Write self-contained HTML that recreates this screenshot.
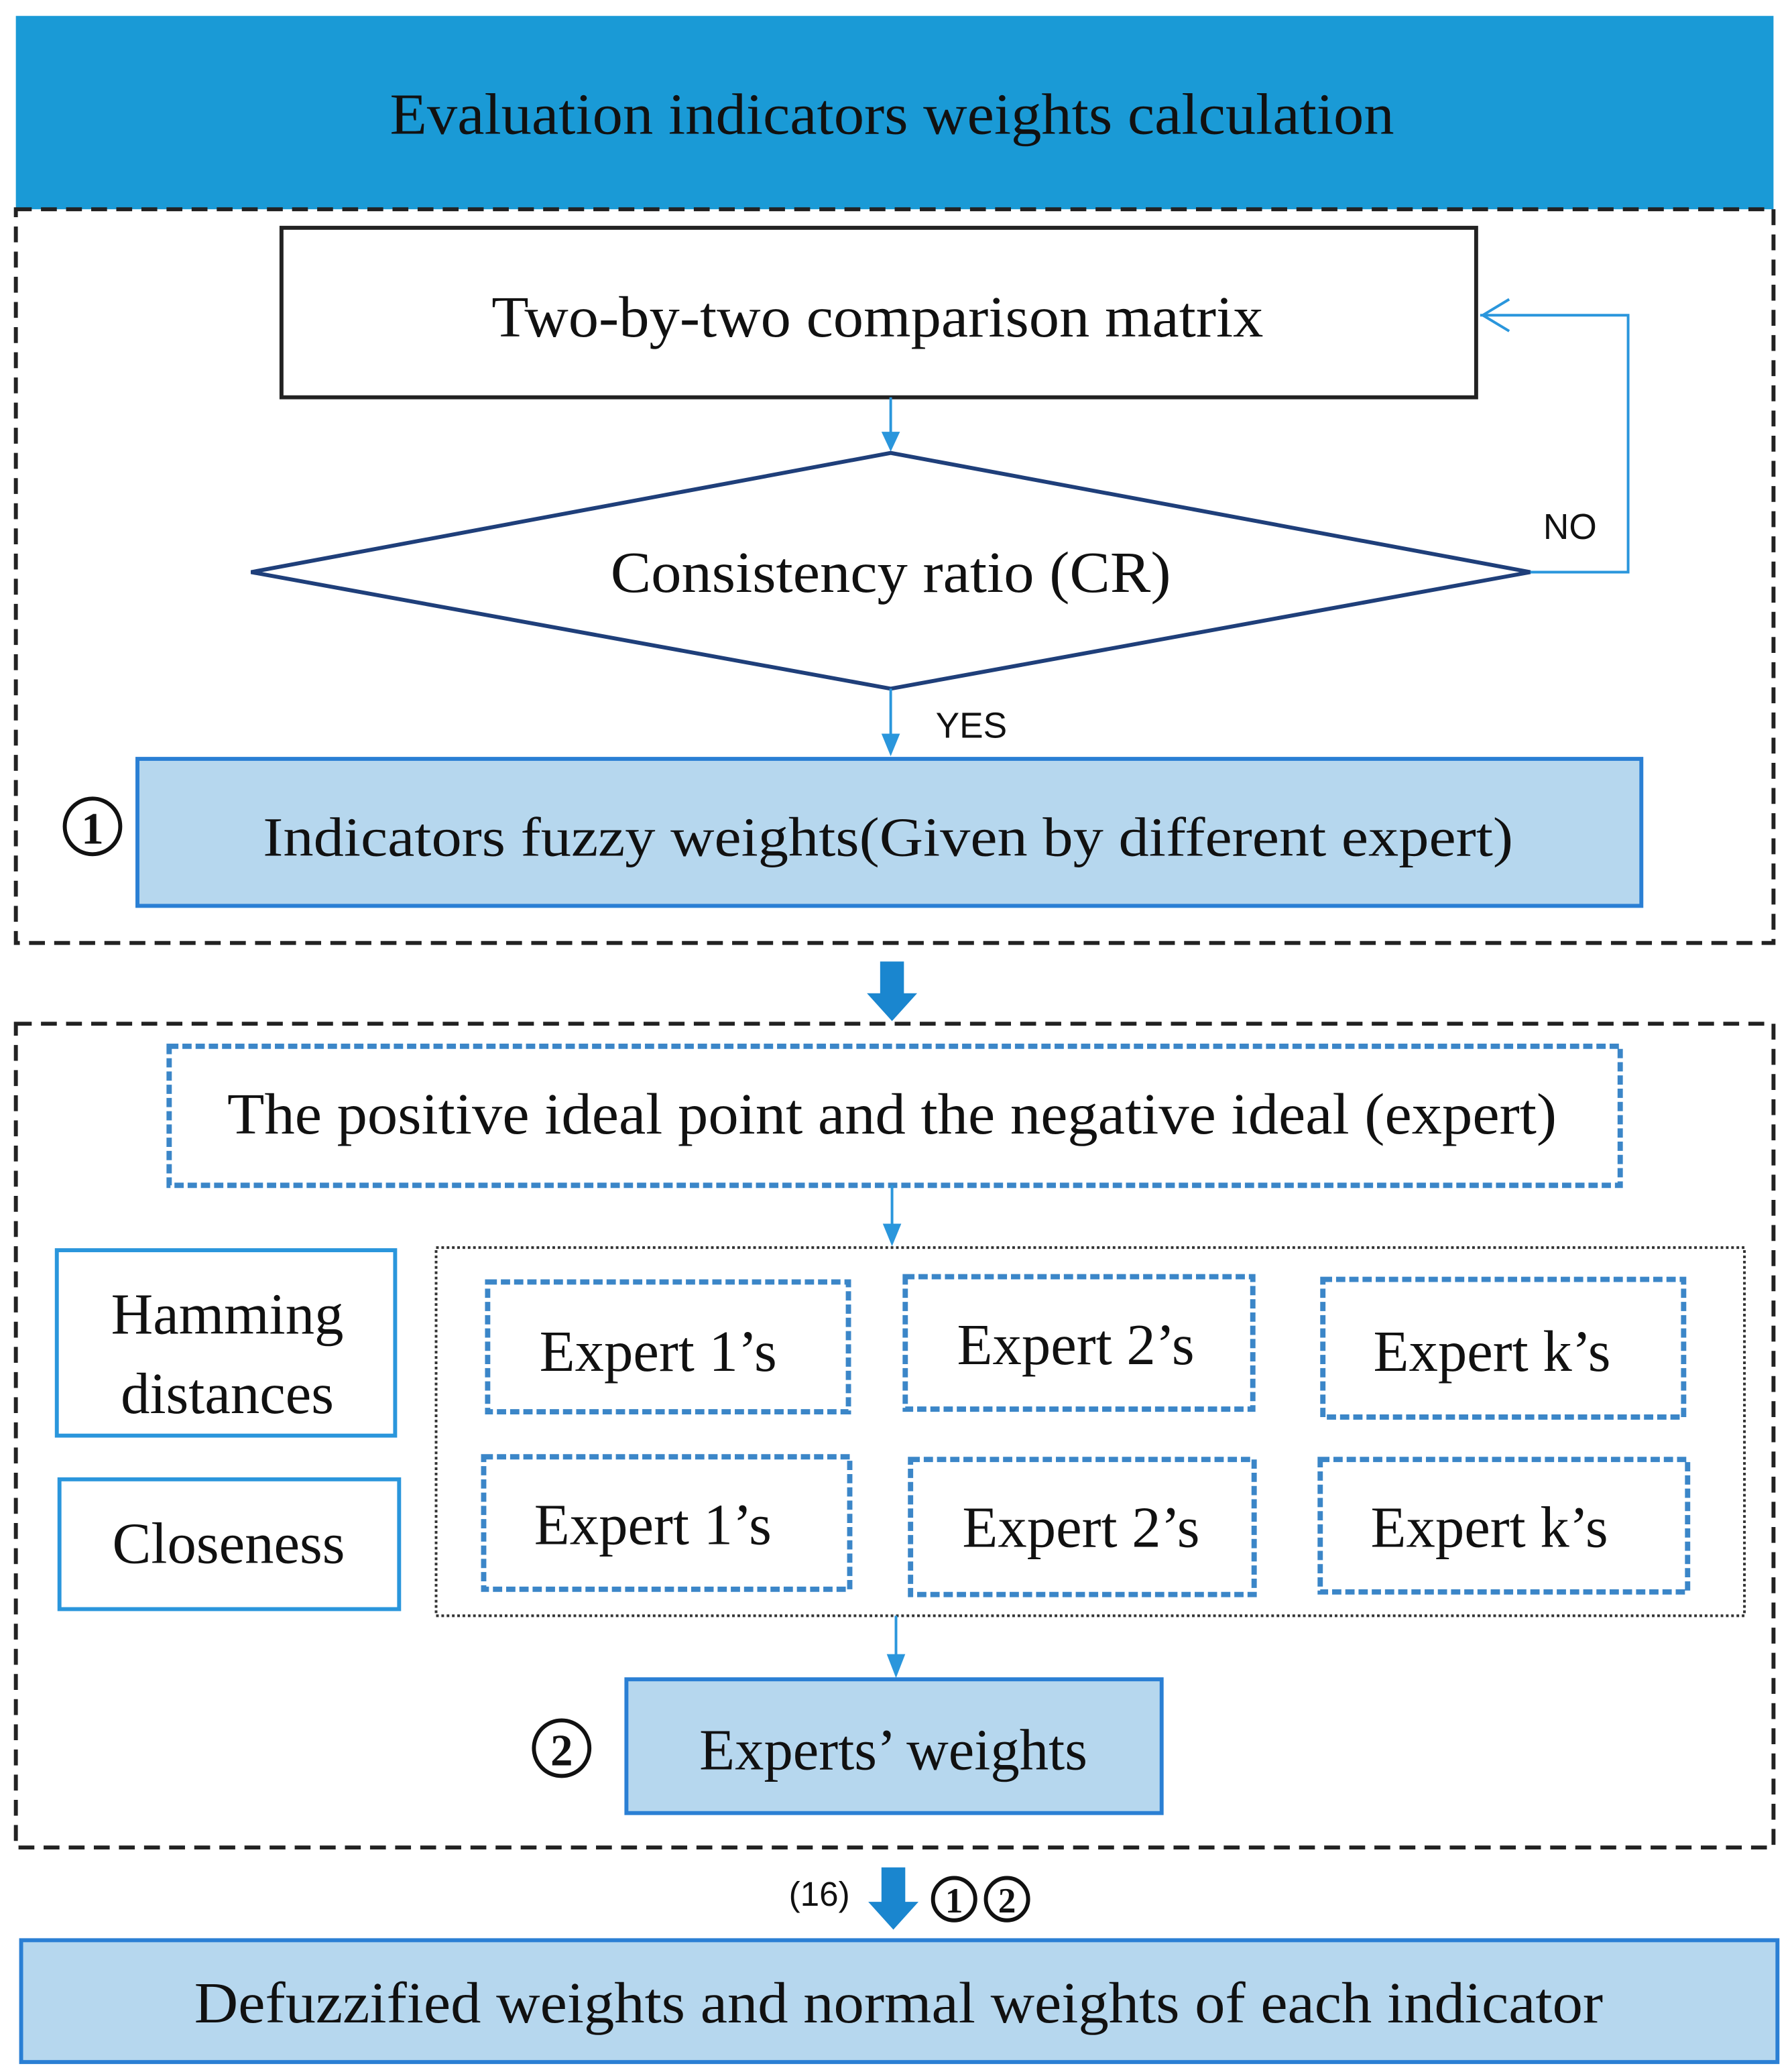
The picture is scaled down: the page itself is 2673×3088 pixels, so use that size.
<!DOCTYPE html>
<html><head><meta charset="utf-8"><style>
html,body{margin:0;padding:0;background:#fff;}
svg{display:block;}
text{font-family:"Liberation Serif",serif;fill:#111;}
.s{font-family:"Liberation Sans",sans-serif;}
</style></head><body>
<svg width="2673" height="3088" viewBox="0 0 1356 1563" preserveAspectRatio="none" xmlns="http://www.w3.org/2000/svg">
<!-- header -->
<rect x="12" y="12" width="1330" height="146" fill="#1a9ad6"/>
<text x="675" y="101" font-size="44" text-anchor="middle" textLength="760" lengthAdjust="spacingAndGlyphs">Evaluation indicators weights calculation</text>
<!-- dashed frame 1 -->
<path d="M12,158 L1342,158 L1342,712 L12,712 Z" fill="none" stroke="#222" stroke-width="3" stroke-dasharray="12,7"/>
<rect x="213" y="172" width="904" height="128" fill="#fff" stroke="#222" stroke-width="3"/>
<text x="664" y="254" font-size="44" text-anchor="middle" textLength="584" lengthAdjust="spacingAndGlyphs">Two-by-two comparison matrix</text>
<line x1="674" y1="300" x2="674" y2="330" stroke="#2a96dc" stroke-width="2"/>
<path d="M667,326 L681,326 L674,341 Z" fill="#2a96dc"/>
<polygon points="190,432 674,342 1158,432 674,520" fill="#fff" stroke="#1f3f7a" stroke-width="3"/>
<text x="674" y="447" font-size="44" text-anchor="middle" textLength="424" lengthAdjust="spacingAndGlyphs">Consistency ratio (CR)</text>
<polyline points="1158,432 1232,432 1232,238 1120,238" fill="none" stroke="#2a96dc" stroke-width="2"/>
<polyline points="1142,226 1122,238 1142,250" fill="none" stroke="#2a96dc" stroke-width="2"/>
<text class="s" x="1188" y="407" font-size="27" text-anchor="middle">NO</text>
<line x1="674" y1="520" x2="674" y2="558" stroke="#2a96dc" stroke-width="2"/>
<path d="M667,554 L681,554 L674,571 Z" fill="#2a96dc"/>
<text class="s" x="735" y="557" font-size="27" text-anchor="middle">YES</text>
<rect x="104" y="573" width="1138" height="111" fill="#b6d7ee" stroke="#2a7fd4" stroke-width="3"/>
<text x="672" y="646" font-size="42" text-anchor="middle" textLength="946" lengthAdjust="spacingAndGlyphs">Indicators fuzzy weights(Given by different expert)</text>
<circle cx="70" cy="624" r="21" fill="none" stroke="#111" stroke-width="3"/>
<text x="70" y="637" font-size="34" text-anchor="middle" font-weight="bold">1</text>
<!-- thick arrow 1 -->
<path d="M666,726 L684,726 L684,750 L694,750 L675,771 L656,750 L666,750 Z" fill="#1a86cf"/>
<!-- dashed frame 2 -->
<path d="M12,773 L1342,773 L1342,1395 L12,1395 Z" fill="none" stroke="#222" stroke-width="3" stroke-dasharray="12,7"/>
<rect x="128" y="790" width="1098" height="105" fill="none" stroke="#3b86c8" stroke-width="4" stroke-dasharray="7,3"/>
<text x="675" y="856" font-size="44" text-anchor="middle" textLength="1006" lengthAdjust="spacingAndGlyphs">The positive ideal point and the negative ideal (expert)</text>
<line x1="675" y1="895" x2="675" y2="928" stroke="#2a96dc" stroke-width="2"/>
<path d="M668,924 L682,924 L675,941 Z" fill="#2a96dc"/>
<rect x="330" y="942" width="990" height="278" fill="none" stroke="#333" stroke-width="2" stroke-dasharray="2,2"/>
<rect x="43" y="944" width="256" height="140" fill="#fff" stroke="#2a96dc" stroke-width="3"/>
<text x="172" y="1007" font-size="44" text-anchor="middle">Hamming</text>
<text x="172" y="1067" font-size="44" text-anchor="middle">distances</text>
<rect x="45" y="1117" width="257" height="98" fill="#fff" stroke="#2a96dc" stroke-width="3"/>
<text x="173" y="1180" font-size="44" text-anchor="middle">Closeness</text>
<g fill="none" stroke="#3b86c8" stroke-width="4" stroke-dasharray="7,3">
<rect x="369" y="968" width="273" height="98"/>
<rect x="685" y="964" width="263" height="100"/>
<rect x="1001" y="966" width="273" height="104"/>
<rect x="366" y="1100" width="277" height="100"/>
<rect x="689" y="1102" width="260" height="102"/>
<rect x="999" y="1102" width="278" height="100"/>
</g>
<g font-size="44" text-anchor="middle">
<text x="498" y="1035">Expert 1’s</text>
<text x="814" y="1030">Expert 2’s</text>
<text x="1129" y="1035">Expert k’s</text>
<text x="494" y="1166">Expert 1’s</text>
<text x="818" y="1168">Expert 2’s</text>
<text x="1127" y="1168">Expert k’s</text>
</g>
<line x1="678" y1="1220" x2="678" y2="1253" stroke="#2a96dc" stroke-width="2"/>
<path d="M671,1249 L685,1249 L678,1267 Z" fill="#2a96dc"/>
<rect x="474" y="1268" width="405" height="101" fill="#b6d7ee" stroke="#2a7fd4" stroke-width="3"/>
<text x="676" y="1336" font-size="44" text-anchor="middle">Experts’ weights</text>
<circle cx="425" cy="1320" r="21" fill="none" stroke="#111" stroke-width="3"/>
<text x="425" y="1333" font-size="34" text-anchor="middle" font-weight="bold">2</text>
<!-- thick arrow 2 -->
<path d="M667,1410 L685,1410 L685,1436 L695,1436 L676,1457 L657,1436 L667,1436 Z" fill="#1a86cf"/>
<text class="s" x="620" y="1439" font-size="26" text-anchor="middle">(16)</text>
<circle cx="722" cy="1434" r="16" fill="none" stroke="#111" stroke-width="3"/>
<text x="722" y="1444" font-size="27" text-anchor="middle" font-weight="bold">1</text>
<circle cx="762" cy="1434" r="16" fill="none" stroke="#111" stroke-width="3"/>
<text x="762" y="1444" font-size="27" text-anchor="middle" font-weight="bold">2</text>
<rect x="16" y="1465" width="1329" height="92" fill="#b6d7ee" stroke="#2a7fd4" stroke-width="3"/>
<text x="680" y="1527" font-size="44" text-anchor="middle" textLength="1066" lengthAdjust="spacingAndGlyphs">Defuzzified weights and normal weights of each indicator</text>
</svg>
</body></html>
